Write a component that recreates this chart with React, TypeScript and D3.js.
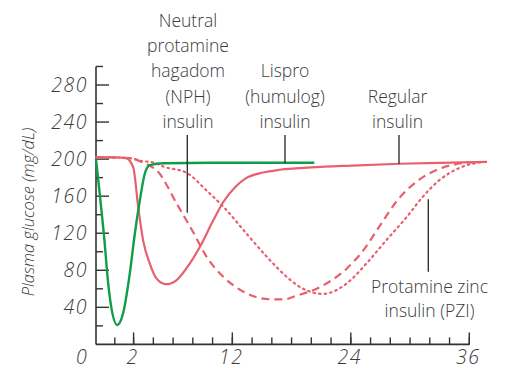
import React from "react";
import * as d3 from "d3";

const regularHours = [0, 1, 1.6, 1.98, 2.47, 2.97, 3.65, 4.33, 5.27, 6.36, 7.7, 8.9, 10.07, 11.1, 12.4, 13.4, 15.1, 16.8, 20, 24, 28.9, 33, 37.8];
const regularGlucose = [202, 202, 201, 191, 148, 112, 87, 71, 65, 69.5, 87.5, 109, 134, 154, 171, 179.5, 185.5, 188.5, 191, 193, 195, 196, 197];

const nphHours = [0, 1.8, 3, 4.5, 6.36, 8.04, 9.4, 11.08, 13.1, 15.8, 17.3, 18.2, 20.9, 23.6, 25.3, 27, 28.6, 30.7, 32.4, 34.4, 37.1];
const nphGlucose = [202, 201, 196, 186, 152, 121, 94.5, 73, 57, 48.7, 48.6, 51.5, 62, 82, 102, 129, 154, 176, 187, 194, 197];

const pziHours = [0, 1.8, 2.8, 3.95, 5, 7.4, 9.4, 11.1, 13.4, 15.5, 17.5, 18.85, 21.2, 23.6, 25.6, 27.6, 29.7, 31.3, 33, 35, 37.4];
const pziGlucose = [202, 201, 198, 196.5, 192, 185, 166, 148.5, 120, 94.5, 73, 62, 54.5, 66, 87.5, 112.5, 138, 159.5, 177.5, 190.5, 197];

const lisproHours = [0, 0.18, 0.45, 0.63, 0.81, 1.13, 1.44, 1.8, 2.13, 2.64, 3.14, 3.65, 5, 10, 15, 20.3];
const lisproGlucose = [200, 166, 112, 69.5, 40.5, 21, 33.5, 77, 120, 156, 184.5, 193.5, 195.5, 196, 196, 196];

const xTickLabels = [0, 2, 12, 24, 36];
const xMinorTicks = [1, 2, 4, 6, 8, 10, 12, 14, 16, 18, 20, 22, 24, 26, 28, 30, 32, 34, 36];
const xMajorTicks = [2, 12, 24, 36];
const yTickLabels = [40, 80, 120, 160, 200, 240, 280];
const yMinorTicks = [20, 60, 100, 140, 180, 220, 260, 300];

const PINK = "#e8606e";
const GREEN = "#0f9d4a";
const INK = "#333";
const FONT = "'Open Sans', 'DejaVu Sans', sans-serif";

export default function App() {
  const x = d3.scaleLinear().domain([0, 2, 36]).range([96, 133.6, 469.3]);
  const y = d3.scaleLinear().domain([0, 280]).range([344.4, 85]);

  const line = d3
    .line<[number, number]>()
    .x((d) => x(d[0]))
    .y((d) => y(d[1]))
    .curve(d3.curveMonotoneX);

  const zip = (a: number[], b: number[]) => a.map((v, i) => [v, b[i]] as [number, number]);

  const textStyle: React.CSSProperties = { fontFamily: FONT, fontSize: 17.5, fill: "#3a3a3a", fontWeight: 300 };
  const tickStyle: React.CSSProperties = { ...textStyle, fontSize: 19.5, fontStyle: "italic", letterSpacing: 1.5 };

  const nphLines = ["Neutral", "protamine", "hagadom", "(NPH)", "insulin"];
  const baselines = [26.5, 52, 77.4, 102.9, 128.3];

  return (
    <svg width={506} height={368} style={{ position: "absolute", left: 0, top: 0 }}>
      <rect width={506} height={368} fill="#fff" />
      {/* axes */}
      <line x1={x(0)} x2={x(0)} y1={y(300)} y2={y(0)} stroke={INK} strokeWidth={1.6} />
      <line x1={x(0)} x2={x(36)} y1={y(0)} y2={y(0)} stroke={INK} strokeWidth={1.6} />
      {yMinorTicks.map((v) => (
        <line key={"ym" + v} x1={x(0)} x2={x(0) + 7} y1={y(v)} y2={y(v)} stroke={INK} strokeWidth={1.4} />
      ))}
      {yTickLabels.map((v) => (
        <line key={"yM" + v} x1={x(0)} x2={x(0) + 13} y1={y(v)} y2={y(v)} stroke={INK} strokeWidth={1.4} />
      ))}
      {xMinorTicks.map((v) => (
        <line key={"xm" + v} x1={x(v)} x2={x(v)} y1={y(0)} y2={y(0) - 7} stroke={INK} strokeWidth={1.4} />
      ))}
      {xMajorTicks.map((v) => (
        <line key={"xM" + v} x1={x(v)} x2={x(v)} y1={y(0)} y2={y(0) - 12} stroke={INK} strokeWidth={1.4} />
      ))}
      {yTickLabels.map((v) => (
        <text key={"yl" + v} x={88} y={y(v) + 7} textAnchor="end" style={tickStyle}>
          {v}
        </text>
      ))}
      {xTickLabels.map((v) => (
        <text key={"xl" + v} x={v === 0 ? 82 : x(v) - 1} y={363.5} textAnchor="middle" style={tickStyle}>
          {v}
        </text>
      ))}
      <text
        transform="translate(34,212) rotate(-90)"
        textAnchor="middle"
        style={{ ...textStyle, fontSize: 16.5, fontStyle: "italic" }}
      >
        Plasma glucose (mg/dL)
      </text>

      {/* curves */}
      <path d={line(zip(pziHours, pziGlucose)) || ""} fill="none" stroke={PINK} strokeWidth={2.2} strokeDasharray="1.6 4" strokeLinecap="round" />
      <path d={line(zip(nphHours, nphGlucose)) || ""} fill="none" stroke={PINK} strokeWidth={2.2} strokeDasharray="8 5" />
      <path d={line(zip(regularHours, regularGlucose)) || ""} fill="none" stroke={PINK} strokeWidth={2.2} />
      <path d={line(zip(lisproHours, lisproGlucose)) || ""} fill="none" stroke={GREEN} strokeWidth={2.4} />

      {/* annotation leader lines */}
      <line x1={187.3} x2={187.3} y1={135} y2={212.7} stroke={INK} strokeWidth={1.4} />
      <line x1={285} x2={285} y1={135} y2={163.3} stroke={INK} strokeWidth={1.4} />
      <line x1={399} x2={399} y1={135} y2={164} stroke={INK} strokeWidth={1.4} />
      <line x1={428.3} x2={428.3} y1={199.3} y2={271.7} stroke={INK} strokeWidth={1.4} />

      {/* labels */}
      {nphLines.map((s, i) => (
        <text key={"n" + i} x={188} y={baselines[i]} textAnchor="middle" style={textStyle}>
          {s}
        </text>
      ))}
      <text x={285} y={baselines[2]} textAnchor="middle" style={textStyle}>Lispro</text>
      <text x={285} y={baselines[3]} textAnchor="middle" style={textStyle}>(humulog)</text>
      <text x={285} y={baselines[4]} textAnchor="middle" style={textStyle}>insulin</text>
      <text x={397.5} y={baselines[3]} textAnchor="middle" style={textStyle}>Regular</text>
      <text x={397.5} y={baselines[4]} textAnchor="middle" style={textStyle}>insulin</text>
      <text x={429.5} y={292.7} textAnchor="middle" style={textStyle}>Protamine zinc</text>
      <text x={429.5} y={316.7} textAnchor="middle" style={textStyle}>insulin (PZI)</text>
    </svg>
  );
}
